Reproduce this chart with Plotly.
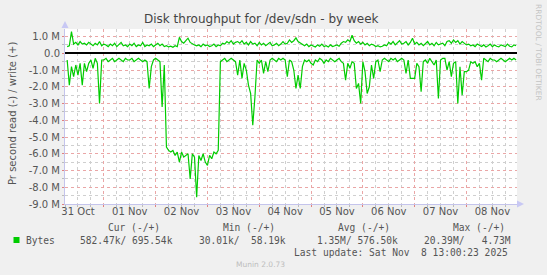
import pandas as pd
import plotly.graph_objects as go

# ---------------- data (MB/s, hourly samples) ----------------
start = pd.Timestamp("2025-10-30 18:00")
end = pd.Timestamp("2025-11-08 11:25")
times = [start + pd.Timedelta(hours=h) for h in range(1, 210)]

read_mb = [
    0.4, 1.9, 0.8, 1.4, 0.7, 1.3, 0.6, 1.9, 0.6, 1.1,
    0.6, 0.4, 0.9, 0.3, 0.6, 3.0, 0.4, 0.4, 0.3, 0.5,
    0.4, 0.3, 0.5, 0.4, 0.3, 0.4, 0.5, 0.3, 0.4, 0.4,
    0.3, 0.5, 0.4, 0.3, 0.4, 0.5, 0.4, 0.5, 2.1, 0.8,
    0.4, 0.3, 0.4, 0.5, 3.2, 0.7, 5.6, 5.8, 5.9, 5.8,
    6.1, 5.9, 6.5, 5.9, 6.2, 6.1, 6.0, 7.5, 6.0, 6.2,
    8.6, 6.1, 6.4, 6.0, 6.5, 6.7, 6.1, 6.3, 5.9, 6.0,
    5.8, 0.5, 0.4, 0.3, 0.5, 0.4, 0.3, 0.4, 0.5, 1.3,
    0.4, 1.5, 0.6, 1.0, 1.9, 2.4, 4.3, 2.6, 0.4, 0.6,
    0.4, 1.2, 0.5, 1.1, 0.4, 0.3, 0.4, 0.5, 0.3, 0.4,
    0.3, 0.4, 1.4, 0.4, 0.5, 1.0, 2.1, 1.3, 2.1, 0.8,
    0.4, 0.5, 0.4, 0.6, 0.7, 0.4, 0.5, 0.3, 0.4, 0.6,
    0.4, 0.5, 0.3, 0.4, 0.5, 0.4, 0.3, 0.5, 0.6, 1.6,
    0.6, 0.9, 0.5, 0.6, 2.1, 1.8, 3.0, 0.5, 1.1, 2.4,
    2.0, 0.7, 1.5, 0.5, 0.4, 1.1, 0.4, 0.3, 0.4, 0.5,
    0.3, 0.4, 0.3, 0.5, 0.4, 0.3, 0.4, 1.2, 0.4, 1.5,
    1.5, 1.5, 0.6, 0.8, 2.3, 0.5, 0.4, 0.6, 0.3, 0.5,
    0.7, 0.4, 2.7, 0.4, 0.3, 0.3, 1.0, 0.5, 1.4, 0.6,
    0.5, 3.0, 0.8, 2.5, 1.1, 1.1, 1.0, 0.5, 0.6, 0.5,
    0.8, 0.6, 1.6, 0.3, 0.4, 0.5, 0.3, 0.4, 0.4, 0.5,
    0.4, 0.3, 0.4, 0.5, 0.4, 0.3, 0.4, 0.3, 0.4,
]

write_mb = [
    0.40, 0.45, 1.30, 0.55, 0.65, 0.50, 0.70, 0.55, 0.60, 0.50,
    0.65, 0.55, 0.45, 0.60, 0.50, 0.70, 0.45, 0.55, 0.50, 0.40,
    0.55, 0.45, 0.60, 0.40, 0.50, 0.65, 0.45, 0.50, 0.40, 0.55,
    0.45, 0.60, 0.40, 0.50, 0.45, 0.65, 0.40, 0.50, 0.45, 0.55,
    0.40, 0.50, 0.60, 0.45, 0.55, 0.40, 0.45, 0.38, 0.42, 0.36,
    0.45, 0.40, 0.95, 0.70, 0.60, 0.75, 0.90, 0.65, 0.55, 0.50,
    0.45, 0.50, 0.40, 0.55, 0.45, 0.50, 0.40, 0.45, 0.55, 0.40,
    0.50, 0.45, 0.60, 0.55, 0.70, 0.60, 0.75, 0.55, 0.65, 0.70,
    0.60, 0.75, 0.55, 0.65, 0.50, 0.70, 0.55, 0.60, 0.45, 0.65,
    0.50, 0.60, 0.45, 0.55, 0.65, 0.45, 0.50, 0.60, 0.45, 0.55,
    0.70, 0.55, 0.60, 0.80, 0.65, 0.75, 0.92, 0.70, 0.60, 0.55,
    0.45, 0.55, 0.40, 0.50, 0.45, 0.38, 0.50, 0.42, 0.55, 0.40,
    0.45, 0.38, 0.50, 0.40, 0.45, 0.50, 0.42, 0.60, 0.70, 0.65,
    0.80, 0.70, 1.08, 0.75, 0.60, 0.70, 0.55, 0.65, 0.50, 0.60,
    0.45, 0.55, 0.50, 0.40, 0.45, 0.38, 0.42, 0.50, 0.45, 0.65,
    0.55, 0.70, 0.50, 0.65, 0.75, 0.55, 0.60, 0.70, 0.50, 0.65,
    0.90, 0.55, 0.65, 0.50, 0.60, 0.45, 0.55, 0.70, 0.50, 0.60,
    0.45, 0.65, 0.50, 0.55, 0.60, 0.45, 0.70, 0.75, 0.60, 0.80,
    0.65, 0.75, 0.55, 0.70, 0.60, 0.50, 0.55, 0.45, 0.50, 0.40,
    0.55, 0.45, 0.40, 0.50, 0.38, 0.45, 0.55, 0.40, 0.50, 0.42,
    0.38, 0.50, 0.45, 0.40, 0.55, 0.42, 0.38, 0.50, 0.45,
]

y_tickvals = [1, 0, -1, -2, -3, -4, -5, -6, -7, -8, -9]
y_ticktext = ["1.0 M", "0.0", "-1.0 M", "-2.0 M", "-3.0 M", "-4.0 M", "-5.0 M",
              "-6.0 M", "-7.0 M", "-8.0 M", "-9.0 M"]
day_labels = ["31 Oct", "01 Nov", "02 Nov", "03 Nov", "04 Nov", "05 Nov",
              "06 Nov", "07 Nov", "08 Nov"]
day_ticks = [pd.Timestamp("2025-10-31") + pd.Timedelta(days=i) for i in range(9)]
noon_ticks = [pd.Timestamp("2025-10-30 12:00") + pd.Timedelta(days=i) for i in range(10)]

legend_headers = ["Cur (-/+)", "Min (-/+)", "Avg (-/+)", "Max (-/+)"]
legend_name = "Bytes"
legend_values = ["582.47k/ 695.54k", "30.01k/  58.19k", "1.35M/ 576.50k", "20.39M/   4.73M"]
last_update = "Last update: Sat Nov  8 13:00:23 2025"

# ---------------- layout geometry (pixels) ----------------
W, H = 547, 275
L, R, T, B = 65, 30, 29, 71
PW, PH = W - L - R, H - T - B

def px(x):
    return (x - L) / PW

def py(y):
    return (H - B - y) / PH

GREEN = "#00cc00"
TXT = "#555555"
SANS = "DejaVu Sans"
MONO = "DejaVu Sans Mono"

fig = go.Figure()
fig.add_trace(go.Scatter(x=times, y=[-v for v in read_mb], mode="lines",
                         line=dict(color=GREEN, width=1.2), showlegend=False))
fig.add_trace(go.Scatter(x=times, y=write_mb, mode="lines",
                         line=dict(color=GREEN, width=1.2), showlegend=False))

fig.update_layout(
    width=W, height=H,
    margin=dict(l=L, r=R, t=T, b=B),
    paper_bgcolor="#f0f0f0", plot_bgcolor="#ffffff",
    font=dict(family=SANS, size=10, color=TXT),
    xaxis=dict(
        type="date", range=[start, end],
        tickvals=noon_ticks, ticktext=["" for _ in noon_ticks],
        showgrid=True, gridcolor="#eaa6a6", griddash="dot", gridwidth=1,
        ticks="outside", ticklen=2, tickcolor="#e08080",
        minor=dict(dtick=6 * 3600 * 1000, tick0="2025-10-30 00:00", showgrid=True,
                   gridcolor="#cfcfcf", griddash="dot", ticks="outside", ticklen=2,
                   tickcolor="#bbbbbb"),
        showline=True, linecolor="#c4c4ec", linewidth=1,
        zeroline=False, fixedrange=True,
    ),
    xaxis2=dict(
        type="date", range=[start, end], overlaying="x", anchor="y", side="bottom",
        tickvals=day_ticks, ticktext=day_labels, showgrid=False, ticks="",
        tickfont=dict(family=SANS, size=10, color=TXT), zeroline=False,
        showline=False,
    ),
    yaxis=dict(
        range=[-9.0, 1.45],
        tickvals=y_tickvals, ticktext=y_ticktext,
        tickfont=dict(family=SANS, size=10, color=TXT),
        showgrid=True, gridcolor="#eaa6a6", griddash="dot", gridwidth=1,
        ticks="outside", ticklen=2, tickcolor="#e08080",
        minor=dict(dtick=0.5, tick0=0, showgrid=True, gridcolor="#cfcfcf",
                   griddash="dot", ticks="outside", ticklen=2, tickcolor="#bbbbbb"),
        zeroline=True, zerolinecolor="#000000", zerolinewidth=1.6,
        showline=True, linecolor="#c4c4ec", linewidth=1,
    ),
)

# dummy to make xaxis2 render
fig.add_trace(go.Scatter(x=[start], y=[None], xaxis="x2", yaxis="y",
                         showlegend=False, hoverinfo="skip"))

ann = []
ann.append(dict(text="Disk throughput for /dev/sdn - by week", x=px(261), y=py(19),
                xref="paper", yref="paper", showarrow=False, xanchor="center",
                yanchor="middle", font=dict(family=SANS, size=12, color="#444444")))
ann.append(dict(text="Pr second read (-) / write (+)", x=px(12), y=py(114),
                xref="paper", yref="paper", showarrow=False, textangle=-90,
                xanchor="center", yanchor="middle",
                font=dict(family=SANS, size=10, color=TXT)))
ann.append(dict(text="RRDTOOL / TOBI OETIKER", x=px(539), y=py(52),
                xref="paper", yref="paper", showarrow=False, textangle=90,
                xanchor="center", yanchor="middle",
                font=dict(family=SANS, size=7.5, color="#c4c4c4")))
for txt, x0 in zip(legend_headers, [107, 222, 337, 452]):
    ann.append(dict(text=txt.replace(" ", "&nbsp;"), x=px(x0), y=py(227),
                    xref="paper", yref="paper",
                    showarrow=False, xanchor="left", yanchor="middle", borderpad=0,
                    font=dict(family=MONO, size=9.6, color=TXT)))
ann.append(dict(text=legend_name, x=px(25), y=py(240), xref="paper", yref="paper",
                showarrow=False, xanchor="left", yanchor="middle", borderpad=0,
                font=dict(family=MONO, size=9.6, color=TXT)))
for txt, x0 in zip(legend_values, [79, 198, 316, 423]):
    ann.append(dict(text=txt.replace(" ", "&nbsp;"), x=px(x0), y=py(240),
                    xref="paper", yref="paper",
                    showarrow=False, xanchor="left", yanchor="middle", borderpad=0,
                    font=dict(family=MONO, size=9.6, color=TXT)))
ann.append(dict(text=last_update.replace(" ", "&nbsp;"), x=px(509), y=py(252),
                xref="paper", yref="paper",
                showarrow=False, xanchor="right", yanchor="middle", borderpad=0,
                font=dict(family=MONO, size=9.6, color=TXT)))
ann.append(dict(text="Munin 2.0.73", x=px(260), y=py(264), xref="paper", yref="paper",
                showarrow=False, xanchor="center", yanchor="middle",
                font=dict(family=SANS, size=7.5, color="#bdbdbd")))
fig.update_layout(annotations=ann)

shapes = []
# legend colour box
shapes.append(dict(type="rect", xref="paper", yref="paper",
                   x0=px(13.5), x1=px(19.5), y0=py(243), y1=py(237),
                   fillcolor=GREEN, line=dict(width=0)))
# axis arrows
shapes.append(dict(type="path", xref="paper", yref="paper",
                   path=f"M {px(61.5)} {py(28)} L {px(68.5)} {py(28)} L {px(65)} {py(21)} Z",
                   fillcolor="#c8c8f4", line=dict(width=0)))
shapes.append(dict(type="path", xref="paper", yref="paper",
                   path=f"M {px(517)} {py(200.5)} L {px(517)} {py(207.5)} L {px(524)} {py(204)} Z",
                   fillcolor="#c8c8f4", line=dict(width=0)))
fig.update_layout(shapes=shapes)

fig.write_html("out.html")
